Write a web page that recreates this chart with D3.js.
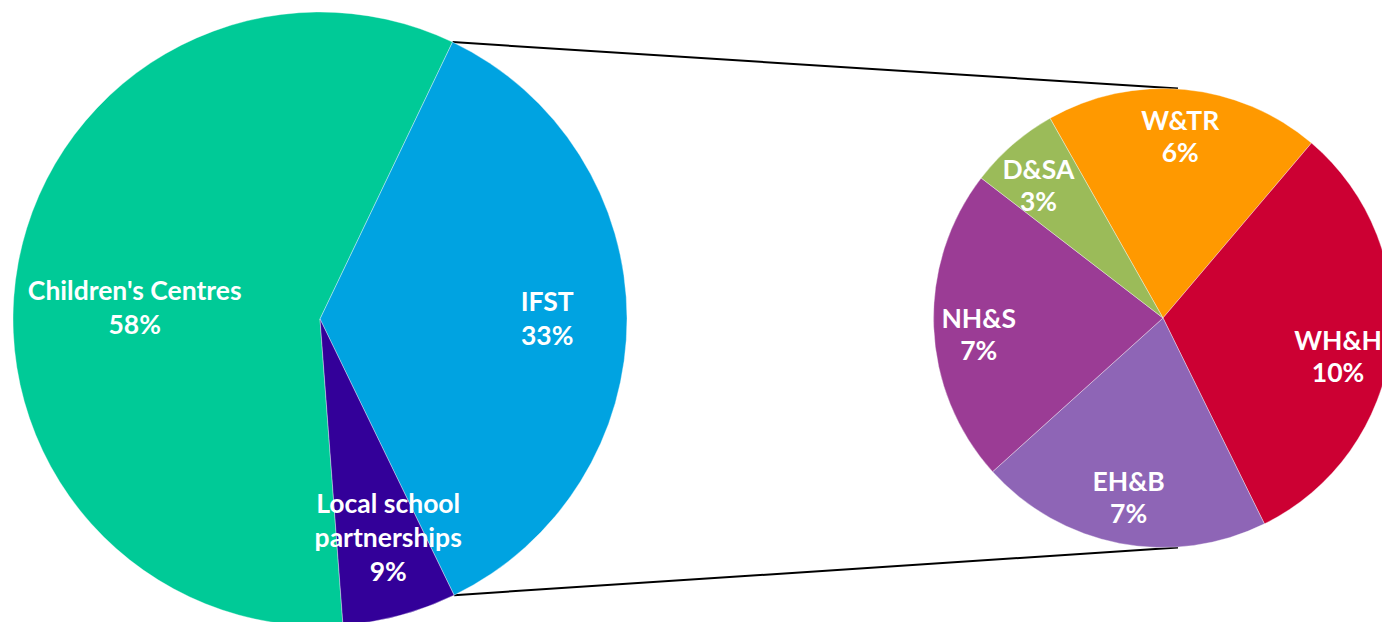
<!DOCTYPE html>
<html>
<head>
<meta charset="utf-8">
<script src="https://cdn.jsdelivr.net/npm/d3@7"></script>
<style>
  body { margin: 0; background: #fff; }
  .lbl { font-family: Lato, "Open Sans", sans-serif; font-weight: bold; fill: #fff; }
</style>
</head>
<body>
<div class="container"></div>
<script>
// main pie - slice sizes as drawn, printed labels kept as shown
var mainCategories = ["Children's Centres", "IFST", "Local school partnerships"];
var mainShares = [58.3, 35.7, 6.0];
var mainLabels = ["58%", "33%", "9%"];
var mainColors = ["#00CA97", "#00A3E1", "#330099"];

// second pie - breakdown of IFST
var subCategories = ["W&TR", "WH&H", "EH&B", "NH&S", "D&SA"];
var subShares = [6.4, 10.4, 6.8, 7.3, 2.1];
var subLabels = ["6%", "10%", "7%", "7%", "3%"];
var subColors = ["#FF9900", "#CC0033", "#8E65B6", "#9B3C95", "#9BBB59"];

var chartOptions = {
  width: 1382,
  height: 622,
  main: {cx: 320, cy: 319, r: 307, start: 175.7, labelK: 0.74, lineGap: 34},
  sub: {cx: 1163, cy: 318, r: 229.5, start: 330.5, labelK: 0.795, lineGap: 32},
  fontSize: 26.5
};

// hand nudges for labels excel moved off the mid-angle
var labelNudge = {
  "Children's Centres": [38, 30],
  "Local school partnerships": [9, -1],
  "WH&H": [-6, 16],
  "NH&S": [-2, 9],
  "D&SA": [-5, 5]
};

// split long names into lines like the original
var splitName = function(name){
  if(name === "Local school partnerships"){ return ["Local school", "partnerships"]; }
  return [name];
};

var rad = function(deg){ return deg * Math.PI / 180; };

var svg = d3.select('.container').append('svg')
            .attr('width', chartOptions.width)
            .attr('height', chartOptions.height);

var lineLayer = svg.append('g');

var drawPie = function(opts, cats, shares, labels, colors){
  var pie = d3.pie().sort(null)
              .startAngle(rad(opts.start))
              .endAngle(rad(opts.start) + 2 * Math.PI);
  var data = pie(shares);
  data.forEach(function(d, i){
    d.name = cats[i]; d.label = labels[i]; d.color = colors[i];
  });

  var arc = d3.arc().innerRadius(0).outerRadius(opts.r);
  var labelArc = d3.arc().innerRadius(opts.r * opts.labelK).outerRadius(opts.r * opts.labelK);

  var g = svg.append('g').attr('transform', 'translate(' + opts.cx + ',' + opts.cy + ')');

  g.selectAll('path')
    .data(data)
    .enter()
    .append('path')
    .attr('d', arc)
    .style('fill', function(d){ return d.color; })
    .style('stroke', '#ffffff')
    .style('stroke-width', 0.6)
    .style('stroke-opacity', 0.6);

  g.selectAll('text.lbl')
    .data(data)
    .enter()
    .append('text')
    .attr('class', 'lbl')
    .attr('text-anchor', 'middle')
    .style('font-size', chartOptions.fontSize + 'px')
    .each(function(d){
      var c = labelArc.centroid(d);
      var nudge = labelNudge[d.name] || [0, 0];
      var lines = splitName(d.name).concat([d.label]);
      var x = c[0] + nudge[0];
      var yMid = c[1] + nudge[1];
      var t = d3.select(this);
      lines.forEach(function(line, i){
        var capCenter = yMid + (i - (lines.length - 1) / 2) * opts.lineGap;
        t.append('tspan')
          .attr('x', x)
          .attr('y', capCenter + chartOptions.fontSize * 0.36)
          .text(line);
      });
    });

  return data;
};

var mainData = drawPie(chartOptions.main, mainCategories, mainShares, mainLabels, mainColors);
drawPie(chartOptions.sub, subCategories, subShares, subLabels, subColors);

// connector lines from the IFST slice edges to top / bottom of second pie
var ifst = mainData[1];
var m = chartOptions.main, s = chartOptions.sub;
var edgePoint = function(a){
  return [m.cx + m.r * Math.sin(a), m.cy - m.r * Math.cos(a)];
};
var p1 = edgePoint(ifst.startAngle), p2 = edgePoint(ifst.endAngle);
var joins = [[p1, [s.cx + 15, s.cy - s.r]], [p2, [s.cx + 15, s.cy + s.r]]];

lineLayer.selectAll('line')
  .data(joins)
  .enter()
  .append('line')
  .attr('x1', function(d){ return d[0][0]; })
  .attr('y1', function(d){ return d[0][1]; })
  .attr('x2', function(d){ return d[1][0]; })
  .attr('y2', function(d){ return d[1][1]; })
  .style('stroke', '#000')
  .style('stroke-width', 2);
</script>
</body>
</html>
